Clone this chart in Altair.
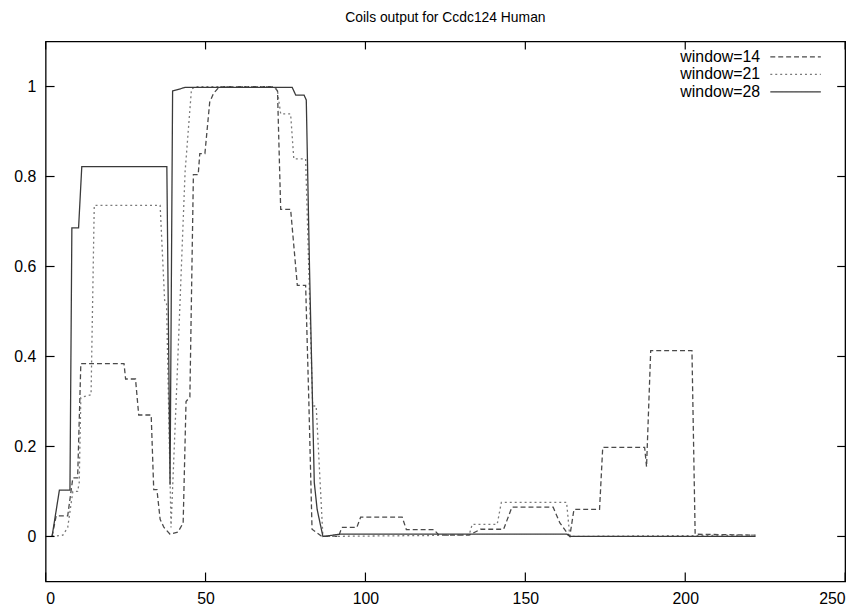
import altair as alt
import pandas as pd

# ---- data (breakpoints of each curve) ----
series_names = ["window=14", "window=21", "window=28"]

w14_x = [2, 3.3, 6.9, 8.5, 10, 11, 24.5, 25, 28.1, 29.1, 33, 33.8, 34.8, 35.8, 37, 38.9,
         41.4, 43, 43.9, 45.1, 46.2, 47.7, 48.2, 49.8, 51.3, 52.5, 54.4, 71.5, 72.5, 73.5,
         76.6, 78.7, 81.3, 82.3, 83.3, 86.4, 91.6, 92.6, 97.3, 98.5, 111.5, 112.8, 121.4,
         123, 132.4, 136, 143.2, 145.8, 158.7, 160.8, 163.9, 165.2, 173.2, 174.2, 187.3,
         187.9, 189.2, 202.1, 203.1, 222]
w14_y = [0, 0.046, 0.046, 0.13, 0.13, 0.384, 0.384, 0.35, 0.35, 0.27, 0.27, 0.104, 0.104,
         0.038, 0.02, 0.005, 0.01, 0.03, 0.30, 0.31, 0.804, 0.804, 0.851, 0.851, 0.965, 0.985,
         1.0, 1.0, 0.99, 0.727, 0.727, 0.558, 0.558, 0.3, 0.016, 0.0, 0.0, 0.02, 0.02, 0.043,
         0.043, 0.015, 0.015, 0.003, 0.003, 0.016, 0.016, 0.065, 0.065, 0.03, 0.0, 0.06, 0.06,
         0.198, 0.198, 0.155, 0.413, 0.413, 0.005, 0.003]

w21_x = [2, 5.4, 6.9, 8.5, 10, 10.5, 11, 14.2, 15.2, 35.8, 37.2, 37.8, 39.2, 41, 43.6, 45.6,
         47, 71.5, 72.5, 73.5, 76.6, 77.6, 81.3, 83.5, 84.6, 86.7, 132.4, 133.4, 141.2, 142.5,
         162.9, 163.9, 222]
w21_y = [0, 0.003, 0.02, 0.1, 0.1, 0.12, 0.309, 0.315, 0.736, 0.736, 0.525, 0.52, 0.02, 0.335,
         0.81, 0.994, 1.0, 1.0, 0.99, 0.939, 0.939, 0.839, 0.839, 0.29, 0.29, 0.0, 0.003, 0.027,
         0.027, 0.076, 0.076, 0.0, 0.003]

w28_x = [2, 4.3, 7.6, 8.2, 10.3, 11.3, 37.9, 38.9, 39.7, 43.6, 77.1, 78.2, 80.8, 81.5, 82.5,
         84, 84.9, 86.7, 92, 163, 164, 222]
w28_y = [0, 0.103, 0.103, 0.686, 0.686, 0.822, 0.822, 0.115, 0.99, 0.998, 0.998, 0.981, 0.981,
         0.97, 0.6, 0.12, 0.06, 0.0, 0.005, 0.005, 0.0, 0.0]

x_ticks = [0, 50, 100, 150, 200, 250]
y_ticks = [0, 0.2, 0.4, 0.6, 0.8, 1.0]

title_text = "Coils output for Ccdc124 Human"

# ---- layout / styles (not data) ----
W, H = 807, 545
FONT = "Liberation Sans"
line_colors = ["#4a4a4a", "#7a7a7a", "#3a3a3a"]
line_dashes = [[5, 3], [2, 3], [1, 0]]
legend_label_x = 223.4           # right edge of legend labels (x units)
legend_line_x = [226.6, 242.4]   # legend sample line span (x units)
legend_rows_y = [1.066, 1.027, 0.988]

rows = []
for name, xs, ys in zip(series_names, [w14_x, w21_x, w28_x], [w14_y, w21_y, w28_y]):
    for i, (a, b) in enumerate(zip(xs, ys)):
        rows.append({"series": name, "x": a, "y": b, "i": i})
df = pd.DataFrame(rows)

xscale = alt.Scale(domain=[0, 250], nice=False, zero=False)
yscale = alt.Scale(domain=[-0.1, 1.1], nice=False, zero=False)
xaxis = alt.Axis(values=x_ticks, tickSize=0, domain=False, grid=False,
                 labelPadding=9, labelFont=FONT, labelFontSize=16,
                 labelColor="#000", format="d")
yaxis = alt.Axis(values=y_ticks, tickSize=0, domain=False, grid=False,
                 labelPadding=10, labelFont=FONT, labelFontSize=16,
                 labelColor="#000", format="~g")


def X(field="x"):
    return alt.X(f"{field}:Q", scale=xscale, title=None, axis=xaxis)


def Y(field="y"):
    return alt.Y(f"{field}:Q", scale=yscale, title=None, axis=yaxis)


lines = alt.Chart(df).mark_line(strokeWidth=1.3).encode(
    x=X(), y=Y(),
    color=alt.Color("series:N", scale=alt.Scale(domain=series_names, range=line_colors), legend=None),
    strokeDash=alt.StrokeDash("series:N", scale=alt.Scale(domain=series_names, range=line_dashes), legend=None),
    order="i:Q",
)

xt = pd.DataFrame({"x": x_ticks})
yt = pd.DataFrame({"y": y_ticks})
tick_style = dict(color="#000", strokeWidth=1.2)
xtick_b = alt.Chart(xt).mark_rule(**tick_style).encode(
    x=X(), y=alt.value(H), y2=alt.value(H - 9))
xtick_t = alt.Chart(xt).mark_rule(**tick_style).encode(
    x=X(), y=alt.value(0), y2=alt.value(8))
ytick_l = alt.Chart(yt).mark_rule(**tick_style).encode(
    y=Y(), x=alt.value(0), x2=alt.value(9))
ytick_r = alt.Chart(yt).mark_rule(**tick_style).encode(
    y=Y(), x=alt.value(W), x2=alt.value(W - 8))

leg = pd.DataFrame({
    "series": series_names,
    "lx": [legend_label_x] * 3,
    "x1": [legend_line_x[0]] * 3,
    "x2": [legend_line_x[1]] * 3,
    "y": legend_rows_y,
})
legend_text = alt.Chart(leg).mark_text(align="right", baseline="middle", font=FONT,
                                       fontSize=16, color="#000").encode(
    x=X("lx"), y=Y(), text="series:N")
legend_lines = alt.Chart(leg).mark_rule(strokeWidth=1.3).encode(
    x=X("x1"), x2="x2:Q", y=Y(),
    color=alt.Color("series:N", scale=alt.Scale(domain=series_names, range=line_colors), legend=None),
    strokeDash=alt.StrokeDash("series:N", scale=alt.Scale(domain=series_names, range=line_dashes), legend=None),
)

chart = alt.layer(lines, xtick_b, xtick_t, ytick_l, ytick_r, legend_text, legend_lines).properties(
    width=W, height=H,
    title=alt.TitleParams(title_text, fontSize=14, fontWeight="normal", font=FONT,
                          anchor="middle", offset=16, color="#000"),
    autosize=alt.AutoSizeParams(type="none"),
    padding={"left": 38, "top": 31, "right": 15, "bottom": 30},
    background="white",
).configure_view(stroke="#000", strokeWidth=1.3)

chart.save("out.html", embed_options={"renderer": "svg", "actions": False})
